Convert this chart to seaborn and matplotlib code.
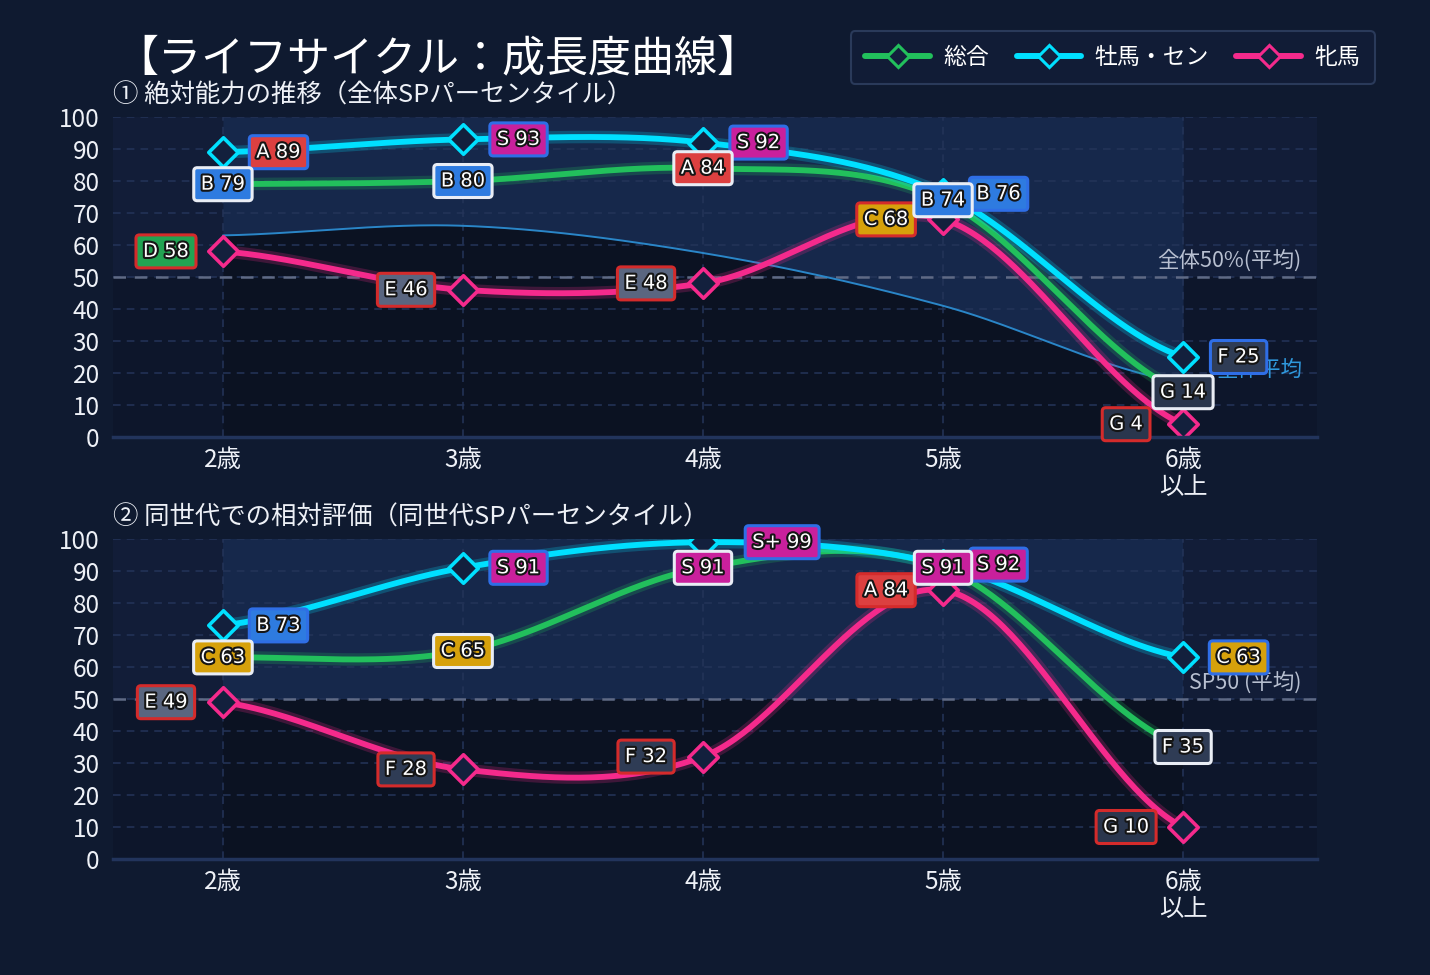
import numpy as np
import pandas as pd
import seaborn as sns
import matplotlib.pyplot as plt
import matplotlib.patheffects as pe
from matplotlib.lines import Line2D

# ---- data ----
ages = ["2歳", "3歳", "4歳", "5歳", "6歳\n以上"]
series_names = ["総合", "牡馬・セン", "牝馬"]

abs_total = [79, 80, 84, 74, 14]
abs_male = [89, 93, 92, 76, 25]
abs_female = [58, 46, 48, 68, 4]
abs_avg = [63, 66, 57.5, 41, 17]
abs_total_grade = ["B", "B", "A", "B", "G"]
abs_male_grade = ["A", "S", "S", "B", "F"]
abs_female_grade = ["D", "E", "E", "C", "G"]

rel_total = [63, 65, 91, 91, 35]
rel_male = [73, 91, 99, 92, 63]
rel_female = [49, 28, 32, 84, 10]
rel_avg = [50, 50, 50, 50, 50]
rel_total_grade = ["C", "C", "S", "S", "F"]
rel_male_grade = ["B", "S", "S+", "S", "C"]
rel_female_grade = ["E", "F", "F", "A", "G"]

# ---- style ----
BG = "#0f1a30"
AX_MID = "#121d38"
AX_DARK_OUT = "#0d162b"
AX_LIGHT = "#16284b"
AX_DARK = "#0b1222"
GRID = "#243459"
REF = "#5f6a85"
line_colors = ["#22c05c", "#00e0ff", "#f52a8c"]
edge_colors = ["#e9edf5", "#2f6ee6", "#d42b2b"]
grade_colors = {"S+": "#c9209c", "S": "#c9209c", "A": "#dc4040", "B": "#2e7be0",
                "C": "#d6a10b", "D": "#22a352", "E": "#5a6680", "F": "#2f3c55",
                "G": "#2a364d"}
label_dx = [0, 40, -41]  # points, per series

sns.set_theme(style="dark")
plt.rcParams["font.family"] = ["Noto Sans CJK JP", "DejaVu Sans"]
plt.rcParams["axes.unicode_minus"] = False


def smooth(y, n=60):
    # Catmull-Rom curve through the points, only for drawing the line
    y = np.asarray(y, float)
    k = len(y)
    m = np.empty(k)
    m[1:-1] = (y[2:] - y[:-2]) / 2
    m[0] = (y[1] - y[0]) * 0.5
    m[-1] = (y[-1] - y[-2]) * 0.5
    xs = np.linspace(0, k - 1, n * (k - 1) + 1)
    i = np.minimum(xs.astype(int), k - 2)
    t = xs - i
    ys = ((2 * t**3 - 3 * t**2 + 1) * y[i] + (t**3 - 2 * t**2 + t) * m[i]
          + (-2 * t**3 + 3 * t**2) * y[i + 1] + (t**3 - t**2) * m[i + 1])
    return xs, ys


def draw_panel(ax, values, grades, avg, ref_text, avg_text):
    ax.set_facecolor(AX_MID)
    ax.set_xlim(-0.458, 4.558)
    ax.set_ylim(0, 100)
    ax.axhspan(0, 50, color=AX_DARK_OUT, lw=0, zorder=0.2)
    xa, ya = smooth(avg)
    ax.fill_between(xa, ya, 100, color=AX_LIGHT, lw=0, zorder=0.5)
    ax.fill_between(xa, 0, ya, color=AX_DARK, lw=0, zorder=0.5)

    ax.set_axisbelow("line")
    ax.grid(True, color=GRID, lw=1.1, ls=(0, (5, 4)))
    ax.axhline(50, color=REF, lw=1.8, ls=(0, (5, 3.5)), zorder=1.6)
    ax.text(4.495, 51.5, ref_text, ha="right", va="bottom", fontsize=15.5,
            color="#b7bfd0", zorder=2)

    if avg_text:
        sns.lineplot(x=xa, y=ya, ax=ax, color="#2a86c8", lw=1.4, sort=False,
                     zorder=2)
        ax.text(4.495, avg[-1] + 4, avg_text, ha="right", va="center",
                fontsize=15.5, color="#2f98dc", zorder=2)

    for s, (vals, col) in enumerate(zip(values, line_colors)):
        xs, ys = smooth(vals)
        sns.lineplot(x=xs, y=ys, ax=ax, color=col, lw=4.2, sort=False,
                     zorder=3 + s * 0.1,
                     path_effects=[pe.Stroke(linewidth=9, foreground=col, alpha=0.22),
                                   pe.Normal()])
        sns.scatterplot(x=range(len(vals)), y=vals, ax=ax, marker="D", s=225,
                        color="#13203d", edgecolor=col, linewidth=2.6,
                        zorder=4 + s * 0.1, clip_on=True)

    # labels: 牝馬 under 牡馬 under 総合
    for s in [2, 1, 0]:
        for i, (v, g) in enumerate(zip(values[s], grades[s])):
            dx = label_dx[s]
            if g == "S+":
                dx = 57
            t = ax.annotate(f"{g} {v}", (i, v), xytext=(dx, 0),
                            textcoords="offset points", ha="center", va="center",
                            fontsize=14, color="white", zorder=6 + (2 - s),
                            family=["DejaVu Sans", "Noto Sans CJK JP"],
                            annotation_clip=False,
                            bbox=dict(boxstyle="round,pad=0.36,rounding_size=0.18",
                                      fc=grade_colors[g], ec=edge_colors[s], lw=2.2))
            t.set_path_effects([pe.withStroke(linewidth=3, foreground="#151515")])

    ax.set_xticks(range(len(ages)))
    ax.set_xticklabels(ages, linespacing=1.05)
    ax.set_yticks(range(0, 101, 10))
    ax.tick_params(axis="both", length=0, labelsize=17.5, colors="#eef1f7")
    ax.tick_params(axis="y", pad=9.5)
    ax.tick_params(axis="x", pad=7)
    ax.set_xlabel(None)
    ax.set_ylabel(None)
    for side in ["top", "left", "right"]:
        ax.spines[side].set_visible(False)
    ax.spines["bottom"].set_color("#22345c")
    ax.spines["bottom"].set_linewidth(2.5)
    ax.spines["bottom"].set_zorder(5)


fig = plt.figure(figsize=(14.3, 9.75), dpi=100, facecolor=BG)
ax1 = fig.add_axes([113 / 1430, 1 - 437 / 975, 1204 / 1430, 320 / 975])
ax2 = fig.add_axes([113 / 1430, 1 - 859 / 975, 1204 / 1430, 320 / 975])

draw_panel(ax1, [abs_total, abs_male, abs_female],
           [abs_total_grade, abs_male_grade, abs_female_grade],
           abs_avg, "全体50%(平均)", "全体平均")
draw_panel(ax2, [rel_total, rel_male, rel_female],
           [rel_total_grade, rel_male_grade, rel_female_grade],
           rel_avg, "SP50 (平均)", None)

fig.text(0.081, 1 - 59 / 975, "【ライフサイクル：成長度曲線】", fontsize=31,
         color="white", ha="left", va="center")
fig.text(0.079, 1 - 96 / 975, "① 絶対能力の推移（全体SPパーセンタイル）", fontsize=18.3,
         color="#eef1f7", ha="left", va="center")
fig.text(0.079, 1 - 518 / 975, "② 同世代での相対評価（同世代SPパーセンタイル）",
         fontsize=18.3, color="#eef1f7", ha="left", va="center")

handles = [Line2D([0], [0], color=c, lw=4.3, marker="D", markersize=11,
                  markerfacecolor="#13203d", markeredgecolor=c, markeredgewidth=2.2)
           for c in line_colors]
leg = fig.legend(handles, series_names, loc="upper right",
                 bbox_to_anchor=(1375 / 1430, 1 - 31 / 975), ncol=3, fontsize=16.5,
                 frameon=True, facecolor="#111c36", edgecolor="#2a3a5a",
                 framealpha=1, handlelength=2.8, handletextpad=0.6,
                 columnspacing=1.2, borderpad=0.65, borderaxespad=0, fancybox=True)
leg.get_frame().set_linewidth(1.5)
for txt in leg.get_texts():
    txt.set_color("white")

plt.savefig("out.png", dpi=100, facecolor=BG)
